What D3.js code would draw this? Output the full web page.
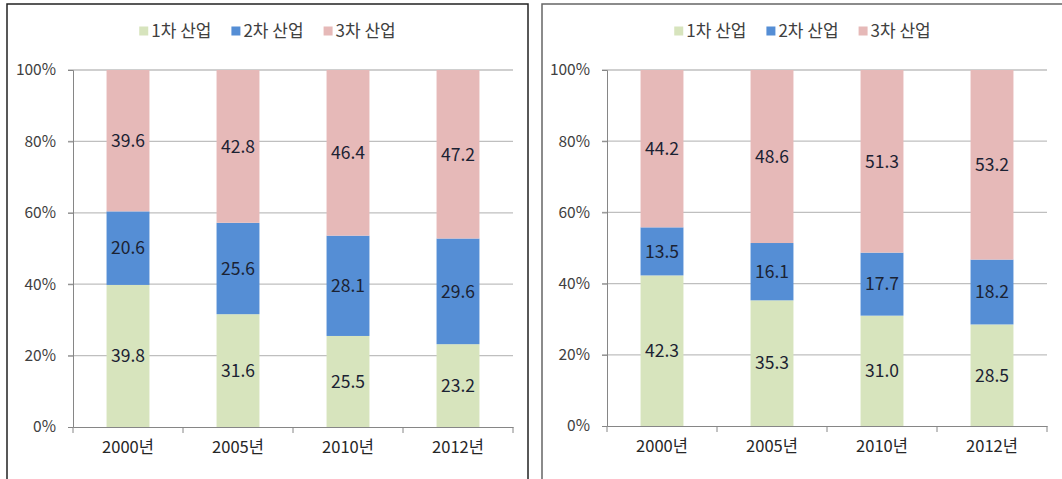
<!DOCTYPE html>
<html>
<head>
<meta charset="utf-8">
<script src="https://cdn.jsdelivr.net/npm/d3@7"></script>
<style>
  body { margin: 0; background: #fff; }
  svg text { font-family: "Noto Sans CJK KR", "Noto Sans", sans-serif; }
</style>
</head>
<body>
<svg id="chart" width="1062" height="479"></svg>
<script>
// data
var categories = ["2000년", "2005년", "2010년", "2012년"];
var seriesNames = ["1차 산업", "2차 산업", "3차 산업"];
var seriesColors = ["#d7e4bd", "#558ed5", "#e6b9b8"];
var yTicks = [0, 20, 40, 60, 80, 100];

var leftPrimary = [39.8, 31.6, 25.5, 23.2];
var leftSecondary = [20.6, 25.6, 28.1, 29.6];
var leftTertiary = [39.6, 42.8, 46.4, 47.2];

var rightPrimary = [42.3, 35.3, 31.0, 28.5];
var rightSecondary = [13.5, 16.1, 17.7, 18.2];
var rightTertiary = [44.2, 48.6, 51.3, 53.2];

var svg = d3.select("#chart");

// one panel = one 100% stacked column chart
function drawPanel(opt, cols){
    var g = svg.append("g");

    g.append("rect")
        .attr("x", opt.px).attr("y", opt.py)
        .attr("width", opt.pw).attr("height", opt.ph)
        .attr("fill", "#fff")
        .attr("stroke", opt.border)
        .attr("stroke-width", 1.5);

    var rows = categories.map(function(c, i){
        var r = { cat: c };
        var total = 0;
        seriesNames.forEach(function(s, k){ total += cols[k][i]; });
        seriesNames.forEach(function(s, k){
            r[s] = cols[k][i] / total * 100;
            r[s + "_raw"] = cols[k][i];
        });
        return r;
    });

    var x = d3.scaleBand().domain(categories).range([opt.x0, opt.x1]).padding(0),
        y = d3.scaleLinear().domain([0, 100]).range([opt.y0, opt.y1]);

    // gridlines
    g.append("g").selectAll("line")
        .data(yTicks.filter(function(t){ return t > 0; }))
        .join("line")
        .attr("x1", opt.x0 - 5).attr("x2", opt.x1)
        .attr("y1", function(d){ return y(d); })
        .attr("y2", function(d){ return y(d); })
        .attr("stroke", "#bfbfbf")
        .attr("stroke-width", 1.3);

    var stack = d3.stack().keys(seriesNames)(rows);
    var bw = x.bandwidth() * 0.39;

    var layers = g.append("g").selectAll("g")
        .data(stack)
        .join("g")
        .attr("fill", function(d, i){ return seriesColors[i]; });

    layers.selectAll("rect")
        .data(function(d){ return d; })
        .join("rect")
        .attr("x", function(d){ return x(d.data.cat) + (x.bandwidth() - bw) / 2; })
        .attr("width", bw)
        .attr("y", function(d){ return y(d[1]); })
        .attr("height", function(d){ return y(d[0]) - y(d[1]); });

    // data labels
    stack.forEach(function(layer){
        g.append("g").selectAll("text")
            .data(layer)
            .join("text")
            .attr("x", function(d){ return x(d.data.cat) + x.bandwidth() / 2; })
            .attr("y", function(d){ return (y(d[0]) + y(d[1])) / 2; })
            .attr("dy", "0.36em")
            .attr("text-anchor", "middle")
            .attr("font-size", 17.5)
            .attr("fill", "#1b2233")
            .text(function(d){ return d3.format(".1f")(d.data[layer.key + "_raw"]); });
    });

    // y axis
    var yAxis = g.append("g")
        .attr("transform", "translate(" + opt.x0 + ",0)")
        .call(d3.axisLeft(y).tickValues(yTicks).tickSize(5).tickPadding(12)
              .tickFormat(function(d){ return d + "%"; }));
    yAxis.selectAll("path, line").attr("stroke", "#868686");
    yAxis.selectAll("text").attr("font-size", 15.5).attr("fill", "#404040")
        .style("font-family", "'Noto Sans CJK KR', sans-serif");

    // x axis
    var xAxis = g.append("g")
        .attr("transform", "translate(0," + opt.y0 + ")")
        .call(d3.axisBottom(x).tickSize(0).tickPadding(14));
    xAxis.select(".domain").attr("stroke", "#868686");
    xAxis.selectAll("text").attr("font-size", 16.5).attr("fill", "#262626")
        .style("font-family", "'Noto Sans CJK KR', sans-serif");
    g.append("g").selectAll("line")
        .data(x.domain().concat(["__end"]))
        .join("line")
        .attr("x1", function(d, i){ return opt.x0 + i * x.step(); })
        .attr("x2", function(d, i){ return opt.x0 + i * x.step(); })
        .attr("y1", opt.y0).attr("y2", opt.y0 + 6)
        .attr("stroke", "#868686");

    // legend
    var leg = g.append("g");
    var items = leg.selectAll("g").data(seriesNames).join("g");
    items.append("rect")
        .attr("width", 9).attr("height", 9)
        .attr("y", -4.5)
        .attr("fill", function(d, i){ return seriesColors[i]; });
    items.append("text")
        .attr("x", 12).attr("dy", "0.35em")
        .attr("font-size", 17).attr("fill", "#404040")
        .text(function(d){ return d; });
    var cx = 0;
    items.each(function(){
        var w = this.getBBox().width;
        d3.select(this).attr("transform", "translate(" + cx + ",0)");
        cx += w + 20;
    });
    var total = cx - 20;
    leg.attr("transform", "translate(" + (opt.px + opt.pw / 2 - total / 2) + "," + opt.legY + ")");
}

drawPanel({ px: 7, py: 4, pw: 521, ph: 480, border: "#222",
            x0: 73, x1: 513, y0: 427, y1: 70, legY: 31 },
          [leftPrimary, leftSecondary, leftTertiary]);

drawPanel({ px: 542, py: 4, pw: 521, ph: 480, border: "#666",
            x0: 607, x1: 1047, y0: 426, y1: 70, legY: 31 },
          [rightPrimary, rightSecondary, rightTertiary]);
</script>
</body>
</html>
